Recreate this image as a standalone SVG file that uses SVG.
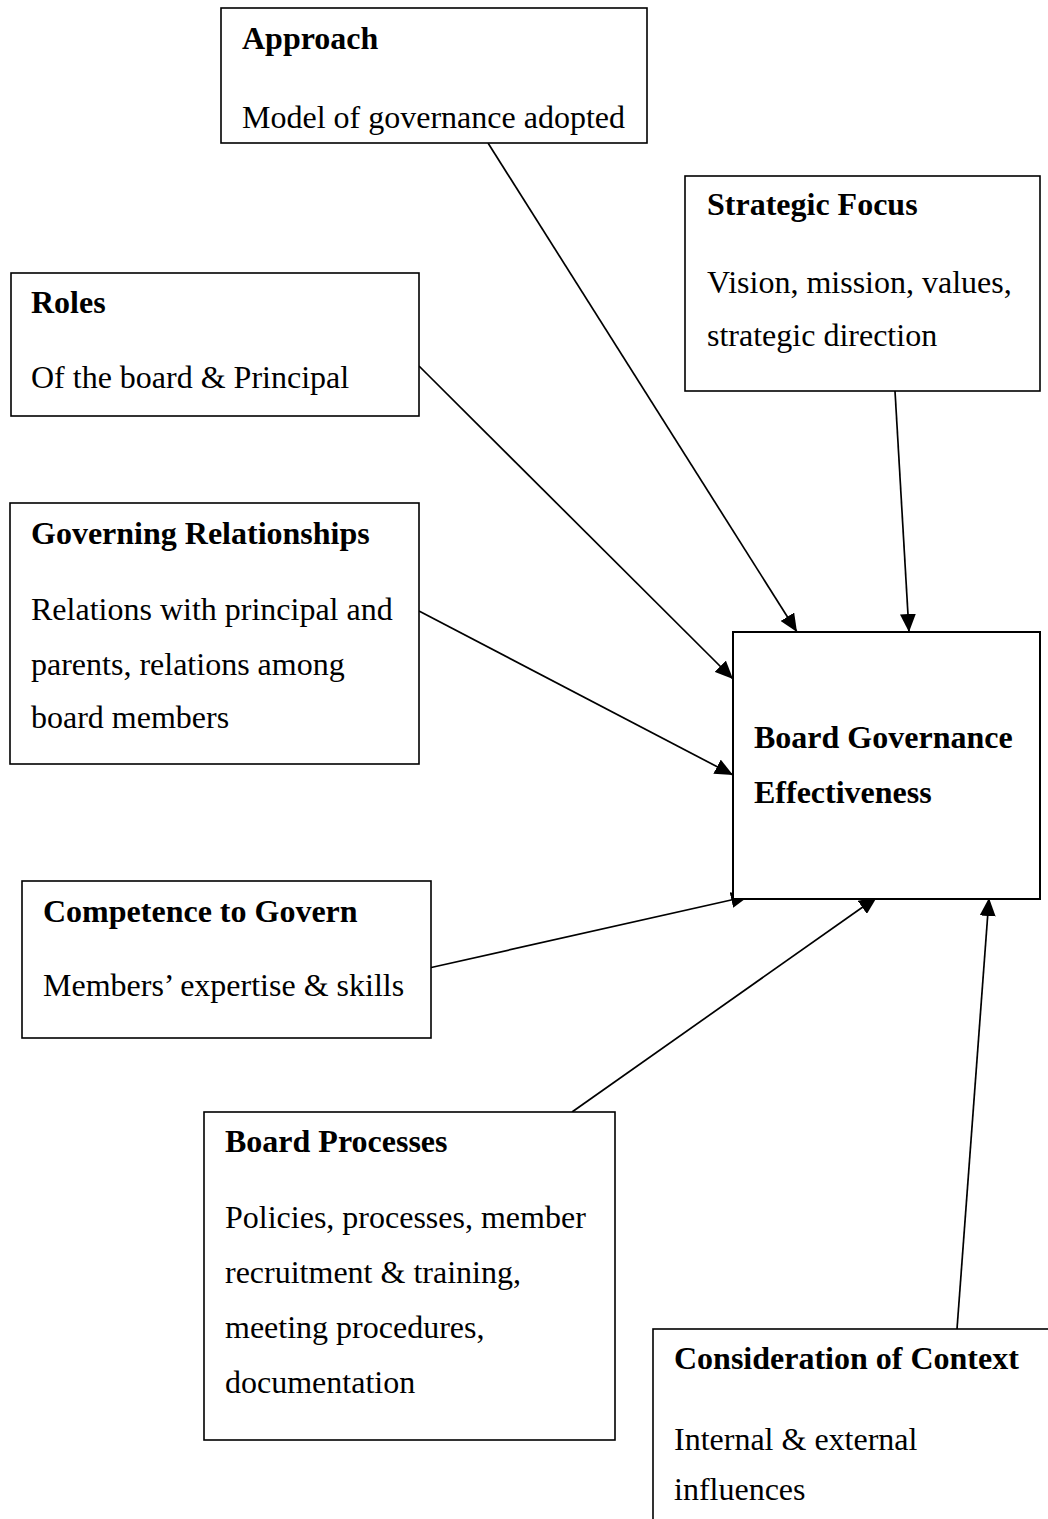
<svg xmlns="http://www.w3.org/2000/svg" width="1048" height="1519" viewBox="0 0 1048 1519">
<style>
.box{fill:#fff;stroke:#000;stroke-width:1.6}
.main{fill:#fff;stroke:#000;stroke-width:2}
.t{font-family:"Liberation Serif","Times New Roman",serif;font-size:32px;fill:#000}
.b{font-weight:bold}
.c{stroke:#000;stroke-width:1.7;fill:none;marker-end:url(#ah)}
</style>
<defs>
<marker id="ah" markerUnits="userSpaceOnUse" markerWidth="18" markerHeight="16" refX="18" refY="8" orient="auto">
<path d="M0,0 L18,8 L0,16 Z" fill="#000"/>
</marker>
</defs>
<rect width="1048" height="1519" fill="#fff"/>
<g id="connectors">
<line class="c" x1="488" y1="143" x2="797" y2="632"/>
<line class="c" x1="895" y1="391" x2="909" y2="632"/>
<line class="c" x1="419" y1="366" x2="733" y2="679"/>
<line class="c" x1="419" y1="611" x2="733" y2="775"/>
<line class="c" x1="429" y1="968" x2="749" y2="896"/>
<line class="c" x1="572" y1="1112" x2="877" y2="897"/>
<line class="c" x1="957" y1="1329" x2="989" y2="898"/>
</g>
<g id="approach">
<rect class="box" x="221" y="8" width="426" height="135"/>
<text class="t b" x="242" y="49">Approach</text>
<text class="t" x="242" y="128">Model of governance adopted</text>
</g>
<g id="strategic">
<rect class="box" x="685" y="176" width="355" height="215"/>
<text class="t b" x="707" y="215">Strategic Focus</text>
<text class="t" x="707" y="293">Vision, mission, values,</text>
<text class="t" x="707" y="346">strategic direction</text>
</g>
<g id="roles">
<rect class="box" x="11" y="273" width="408" height="143"/>
<text class="t b" x="31" y="313">Roles</text>
<text class="t" x="31" y="388">Of the board &amp; Principal</text>
</g>
<g id="relationships">
<rect class="box" x="10" y="503" width="409" height="261"/>
<text class="t b" x="31" y="544">Governing Relationships</text>
<text class="t" x="31" y="620">Relations with principal and</text>
<text class="t" x="31" y="675">parents, relations among</text>
<text class="t" x="31" y="728">board members</text>
</g>
<g id="effectiveness">
<rect class="main" x="733" y="632" width="307" height="267"/>
<text class="t b" x="754" y="748">Board Governance</text>
<text class="t b" x="754" y="803">Effectiveness</text>
</g>
<g id="competence">
<rect class="box" x="22" y="881" width="409" height="157"/>
<text class="t b" x="43" y="922">Competence to Govern</text>
<text class="t" x="43" y="996">Members’ expertise &amp; skills</text>
</g>
<g id="processes">
<rect class="box" x="204" y="1112" width="411" height="328"/>
<text class="t b" x="225" y="1152">Board Processes</text>
<text class="t" x="225" y="1228">Policies, processes, member</text>
<text class="t" x="225" y="1283">recruitment &amp; training,</text>
<text class="t" x="225" y="1338">meeting procedures,</text>
<text class="t" x="225" y="1393">documentation</text>
</g>
<g id="context">
<rect class="box" x="653" y="1329" width="420" height="220"/>
<text class="t b" x="674" y="1369">Consideration of Context</text>
<text class="t" x="674" y="1450">Internal &amp; external</text>
<text class="t" x="674" y="1500">influences</text>
</g>
</svg>
